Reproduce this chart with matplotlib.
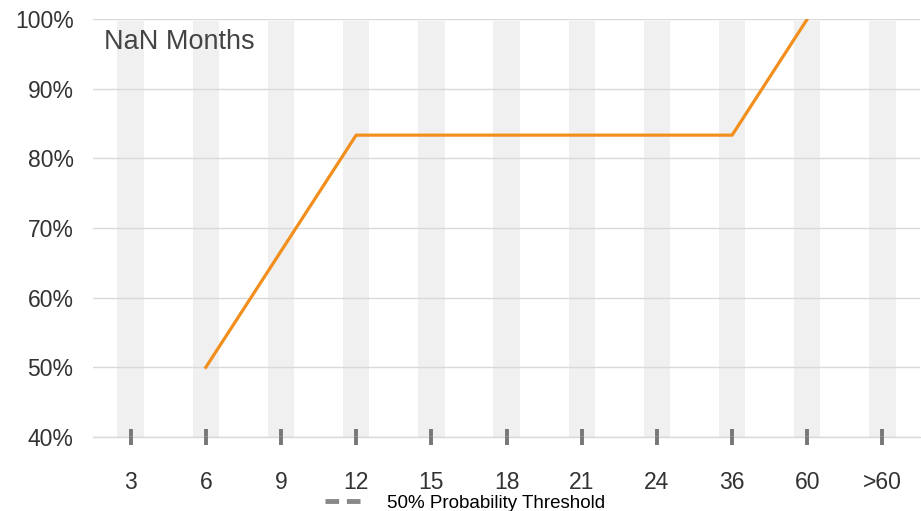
import numpy as np
import matplotlib.pyplot as plt

plt.rcParams['font.family'] = ['Liberation Sans', 'DejaVu Sans']

categories = ['3', '6', '9', '12', '15', '18', '21', '24', '36', '60', '>60']
probability = [np.nan, 50, 66.67, 83.33, 83.33, 83.33, 83.33, 83.33, 83.33, 100, np.nan]
y_ticks = [40, 50, 60, 70, 80, 90, 100]

x = np.arange(len(categories))

fig = plt.figure(figsize=(9.21, 5.11), dpi=100)
ax = fig.add_axes([0.101, 0.1448, 0.898, 0.818])

# light gray column bands
ax.bar(x, [59.7] * len(x), bottom=40, width=0.35, color='#f0f0f0', zorder=0)

ax.plot(x, probability, color='#f28e1c', lw=2.3, zorder=3)

ax.set_xlim(-0.5, len(x) - 0.5)
ax.set_ylim(40, 100)
ax.set_yticks(y_ticks)
ax.set_yticklabels([f'{v}%' for v in y_ticks])
ax.set_xticks(x)
ax.set_xticklabels(categories)
ax.grid(axis='y', color='#d9d9d9', lw=1, zorder=1)
ax.axhline(40, color='#d9d9d9', lw=1, zorder=1, clip_on=False)
ax.set_axisbelow(False)
for s in ax.spines.values():
    s.set_visible(False)

ax.tick_params(axis='y', length=0, pad=14, labelsize=16.5, labelcolor='#333333')
ax.tick_params(axis='x', direction='inout', length=11, width=2.8, color='#777777',
               pad=19, labelsize=16.5, labelcolor='#333333')

ax.text(0.013, 0.975, 'NaN Months', transform=ax.transAxes, fontsize=19.5,
        color='#444444', va='top', ha='left')

# legend for the (unused) threshold line
h, = ax.plot([], [], color='#888888', lw=3.5, ls=(0, (2.8, 1.6)))
fig.legend([h], ['50% Probability Threshold'], loc='lower center',
           bbox_to_anchor=(0.505, -0.035), frameon=False, fontsize=13.5,
           handlelength=1.9, handletextpad=1.45)

fig.savefig('out.png', dpi=100)
